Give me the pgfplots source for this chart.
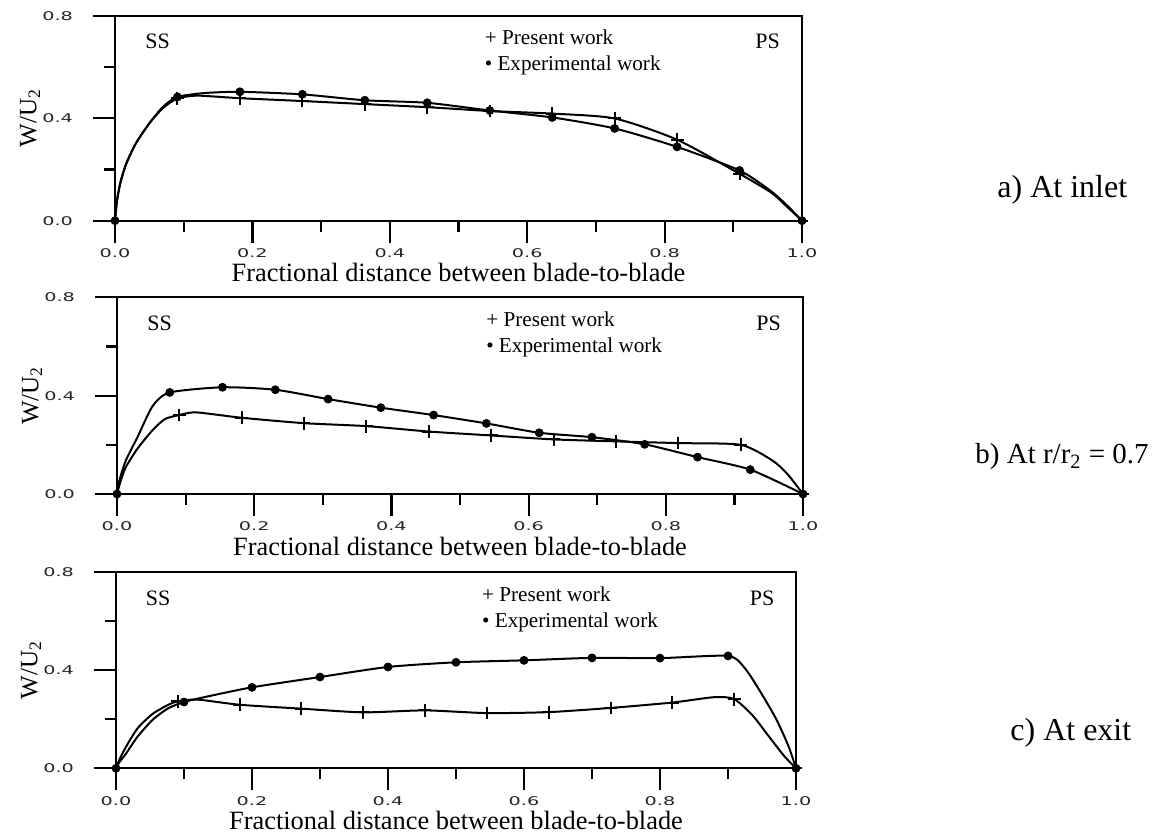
\documentclass[border=0pt]{standalone}
\usepackage{fontspec}
\setmainfont{Liberation Serif}
\newfontfamily\tickfont{DejaVu Sans}
\usepackage{graphicx}
\usepackage{pgfplots}
\pgfplotsset{compat=1.18}

\pgfplotsset{
  panel/.style={
    scale only axis, clip=false,
    xmin=0, xmax=1, ymin=0, ymax=0.8,
    xtick={0,0.2,0.4,0.6,0.8,1.0}, ytick={0,0.4,0.8},
    minor xtick={0.1,0.3,0.5,0.7,0.9}, minor ytick={0.2,0.6},
    xtick pos=left, ytick pos=left, tick align=outside,
    major tick length=11pt, minor tick length=5.5pt,
    axis line style={line width=1.1pt},
    every tick/.style={black, line width=1.1pt},
    /pgf/number format/assume math mode=true,
    xticklabel={\scalebox{1.6}[1]{\pgfmathprintnumber[fixed,fixed zerofill,precision=1]{\tick}}},
    yticklabel={\scalebox{1.6}[1]{\pgfmathprintnumber[fixed,fixed zerofill,precision=1]{\tick}}},
    tick label style={font=\tickfont\fontsize{6}{7}\selectfont, text=black!85},
    xticklabel shift=-0.5pt, yticklabel shift=6.5pt,
    xlabel={Fractional distance between blade-to-blade},
    xlabel style={at={(axis description cs:0.5,0)}, anchor=center, yshift=-26pt, font=\fontsize{13.2}{15}\selectfont},
    ylabel={W/U\textsubscript{2}},
    ylabel style={at={(axis description cs:0,0.5)}, anchor=center, yshift=42.5pt, font=\fontsize{12.5}{14}\selectfont},
  },
  crv/.style={black, line width=1pt, smooth, tension=0.4, no marks},
  pmk/.style={black, only marks, mark=+, mark size=3.2pt, line width=1pt},
  emk/.style={black, only marks, mark=*, mark size=2pt},
}
\newcommand{\paneltext}{%
  \node[font=\fontsize{11}{12}\selectfont] at (rel axis cs:0.062,1) [yshift=-13pt] {SS};
  \node[font=\fontsize{11}{12}\selectfont] at (rel axis cs:0.95,1) [yshift=-13pt] {PS};
  \node[anchor=west, font=\fontsize{10.6}{12}\selectfont] at (rel axis cs:0.528,1) [yshift=-11pt] {+ Present work};
  \node[anchor=west, font=\fontsize{10.6}{12}\selectfont] at (rel axis cs:0.528,1) [yshift=-25pt] {\textbullet\ Experimental work};
}

\begin{document}
\begin{tikzpicture}
\useasboundingbox (0,0) rectangle (583pt,416.5pt);

% ---------------- a) At inlet
\begin{axis}[panel, at={(57.5pt,306.15pt)}, anchor=south west, width=343.5pt, height=102.5pt]
\addplot[crv] coordinates {(0,0) (0.003,0.08) (0.008,0.15) (0.016,0.22) (0.03,0.30) (0.05,0.38) (0.07,0.44) (0.0909,0.477) (0.12,0.488) (0.1818,0.478) (0.2727,0.467) (0.3636,0.455) (0.4545,0.443) (0.5455,0.428) (0.6364,0.418) (0.7273,0.399) (0.8182,0.316) (0.9091,0.183) (0.955,0.11) (0.978,0.055) (1,0)};
\addplot[pmk] coordinates {(0,0) (0.0909,0.477) (0.1818,0.478) (0.2727,0.467) (0.3636,0.455) (0.4545,0.443) (0.5455,0.428) (0.6364,0.418) (0.7273,0.399) (0.8182,0.316) (0.9091,0.183) (1,0)};
\addplot[crv] coordinates {(0,0) (0.003,0.08) (0.008,0.15) (0.016,0.22) (0.03,0.30) (0.05,0.38) (0.07,0.445) (0.0909,0.483) (0.13,0.498) (0.1818,0.503) (0.2727,0.493) (0.3636,0.47) (0.4545,0.46) (0.5455,0.43) (0.6364,0.403) (0.7273,0.36) (0.8182,0.288) (0.9091,0.196) (0.955,0.115) (0.978,0.06) (1,0)};
\addplot[emk] coordinates {(0,0) (0.0909,0.483) (0.1818,0.503) (0.2727,0.493) (0.3636,0.47) (0.4545,0.46) (0.5455,0.43) (0.6364,0.403) (0.7273,0.36) (0.8182,0.288) (0.9091,0.196) (1,0)};
\paneltext
\end{axis}

% ---------------- b) At r/r2 = 0.7
\begin{axis}[panel, at={(58.5pt,169.5pt)}, anchor=south west, width=343pt, height=98.35pt]
\addplot[crv] coordinates {(0,0) (0.005,0.05) (0.013,0.11) (0.03,0.185) (0.052,0.26) (0.07,0.305) (0.0909,0.321) (0.115,0.332) (0.1818,0.31) (0.2727,0.288) (0.3636,0.276) (0.4545,0.254) (0.5455,0.238) (0.6364,0.222) (0.7273,0.214) (0.8182,0.207) (0.9091,0.2) (0.955,0.137) (0.977,0.082) (1,0)};
\addplot[pmk] coordinates {(0,0) (0.0909,0.321) (0.1818,0.31) (0.2727,0.288) (0.3636,0.276) (0.4545,0.254) (0.5455,0.238) (0.6364,0.222) (0.7273,0.214) (0.8182,0.207) (0.9091,0.2) (1,0)};
\addplot[crv] coordinates {(0,0) (0.004,0.06) (0.013,0.137) (0.03,0.232) (0.052,0.358) (0.0769,0.413) (0.1538,0.434) (0.2308,0.424) (0.3077,0.386) (0.3846,0.351) (0.4615,0.321) (0.5385,0.287) (0.6154,0.249) (0.6923,0.231) (0.7692,0.202) (0.8462,0.15) (0.9231,0.099) (1,0)};
\addplot[emk] coordinates {(0,0) (0.0769,0.413) (0.1538,0.434) (0.2308,0.424) (0.3077,0.386) (0.3846,0.351) (0.4615,0.321) (0.5385,0.287) (0.6154,0.249) (0.6923,0.231) (0.7692,0.202) (0.8462,0.15) (0.9231,0.099) (1,0)};
\paneltext
\end{axis}

% ---------------- c) At exit
\begin{axis}[panel, at={(58pt,32.35pt)}, anchor=south west, width=340pt, height=98.15pt]
\addplot[crv] coordinates {(0,0) (0.005,0.035) (0.015,0.089) (0.032,0.164) (0.054,0.222) (0.077,0.259) (0.0909,0.273) (0.12,0.28) (0.1818,0.259) (0.2727,0.243) (0.3636,0.228) (0.4545,0.236) (0.5455,0.225) (0.6364,0.229) (0.7273,0.246) (0.8182,0.268) (0.88,0.29) (0.9091,0.282) (0.936,0.216) (0.959,0.134) (0.982,0.052) (1,0)};
\addplot[pmk] coordinates {(0,0) (0.0909,0.273) (0.1818,0.259) (0.2727,0.243) (0.3636,0.228) (0.4545,0.236) (0.5455,0.225) (0.6364,0.229) (0.7273,0.246) (0.8182,0.268) (0.9091,0.282) (1,0)};
\addplot[crv] coordinates {(0,0) (0.005,0.025) (0.015,0.061) (0.032,0.13) (0.054,0.198) (0.077,0.245) (0.1,0.27) (0.13,0.29) (0.2,0.33) (0.3,0.372) (0.4,0.413) (0.5,0.432) (0.6,0.44) (0.7,0.45) (0.8,0.449) (0.9,0.458) (0.925,0.407) (0.948,0.31) (0.971,0.2) (0.989,0.09) (1,0)};
\addplot[emk] coordinates {(0,0) (0.1,0.27) (0.2,0.33) (0.3,0.372) (0.4,0.413) (0.5,0.432) (0.6,0.44) (0.7,0.45) (0.8,0.449) (0.9,0.458) (1,0)};
\paneltext
\end{axis}

\node[anchor=west, inner sep=0pt, font=\fontsize{16}{18}\selectfont] at (498.5pt,321.5pt) {a) At inlet};
\node[anchor=west, inner sep=0pt, font=\fontsize{14.5}{17}\selectfont] at (487.5pt,188pt) {b) At r/r\textsubscript{2} = 0.7};
\node[anchor=west, inner sep=0pt, font=\fontsize{16}{18}\selectfont] at (505pt,50pt) {c) At exit};
\end{tikzpicture}
\end{document}
